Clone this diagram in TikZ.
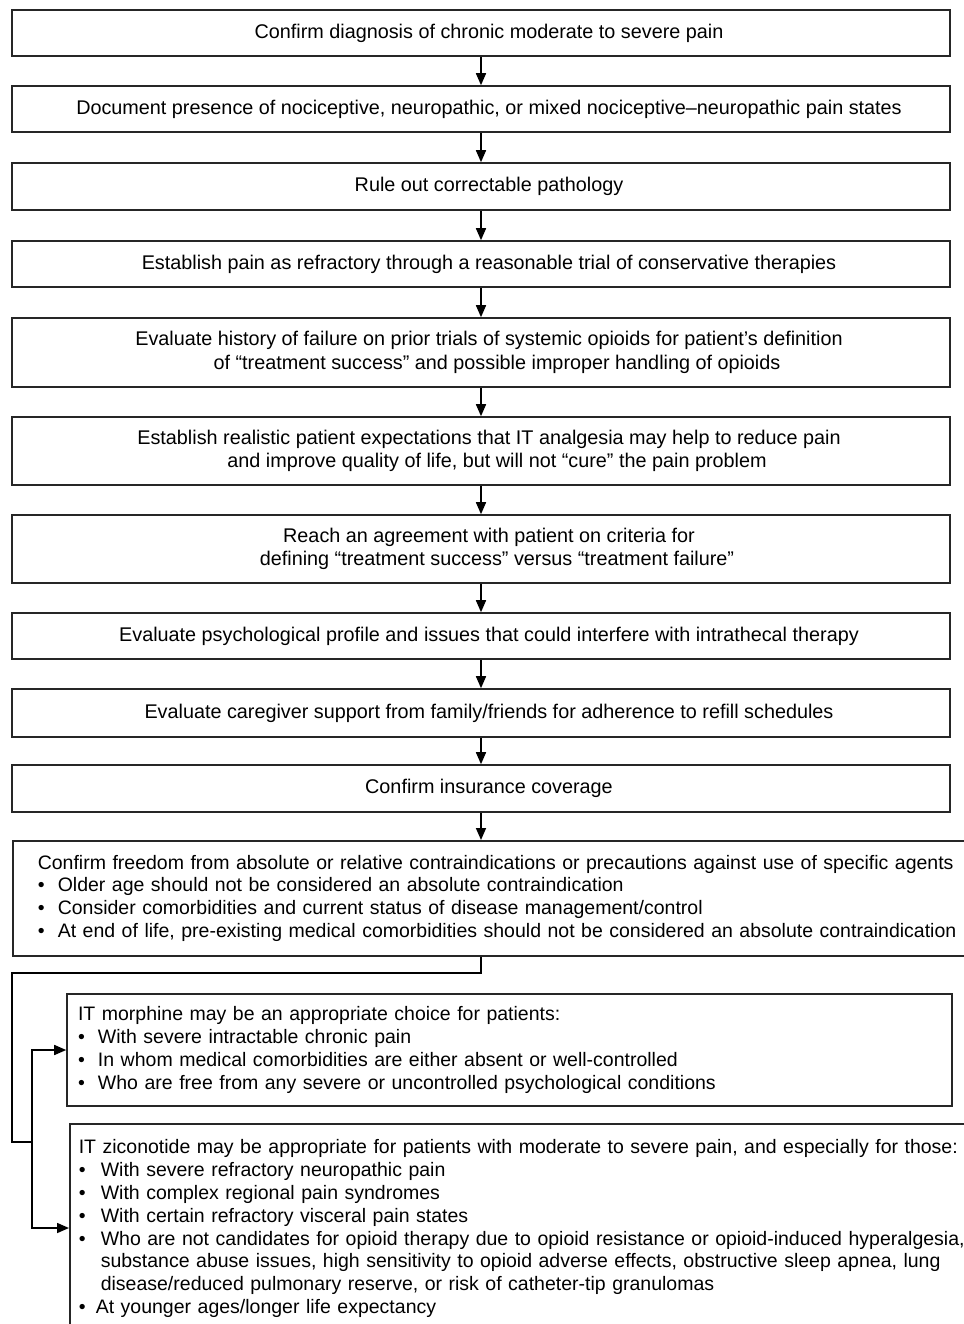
\documentclass[tikz,border=0pt]{standalone}
\usepackage{fontspec}
\setmainfont{Liberation Sans}
\usetikzlibrary{arrows.meta}
\newcommand{\bul}[1][10pt]{\makebox[#1][l]{\textbullet}}
\newcommand{\ind}{\hspace*{8pt}}

\begin{document}
\begin{tikzpicture}[x=0.5pt, y=-0.5pt,
    stage/.style={draw=black!85, line width=0.8pt, minimum width=469pt, align=center, inner sep=0pt,
        font=\fontsize{9.9}{11.8}\selectfont, execute at begin node=\ind},
    listbox/.style={draw=black!85, line width=0.8pt, align=left, inner ysep=0pt,
        font=\fontsize{9.75}{11.4}\selectfont},
    link/.style={line width=0.8pt},
    arr/.style={-{Triangle[width=5pt,length=6pt]}, line width=0.8pt}]
    \useasboundingbox (0,0) rectangle (964,1324);

    % Draw the chain of steps
    \node[stage, minimum height=23pt] (b1) at (481,33) {Confirm diagnosis of chronic moderate to severe pain};
    \node[stage, minimum height=23pt] (b2) at (481,109) {Document presence of nociceptive, neuropathic, or mixed nociceptive--neuropathic pain states};
    \node[stage, minimum height=23.5pt] (b3) at (481,186.5) {Rule out correctable pathology};
    \node[stage, minimum height=23pt] (b4) at (481,264) {Establish pain as refractory through a reasonable trial of conservative therapies};
    \node[stage, minimum height=34.5pt] (b5) at (481,352.5) {Evaluate history of failure on prior trials of systemic opioids for patient’s definition\\\ind of “treatment success” and possible improper handling of opioids};
    \node[stage, minimum height=34pt] (b6) at (481,451) {Establish realistic patient expectations that IT analgesia may help to reduce pain\\\ind and improve quality of life, but will not “cure” the pain problem};
    \node[stage, minimum height=34pt] (b7) at (481,549) {Reach an agreement with patient on criteria for\\\ind defining “treatment success” versus “treatment failure”};
    \node[stage, minimum height=23pt] (b8) at (481,636) {Evaluate psychological profile and issues that could interfere with intrathecal therapy};
    \node[stage, minimum height=24pt] (b9) at (481,713) {Evaluate caregiver support from family/friends for adherence to refill schedules};
    \node[stage, minimum height=23.5pt] (b10) at (481,788.5) {Confirm insurance coverage};

    % Draw contraindication box
    \node[listbox, anchor=north west, text width=470pt, inner xsep=12.5pt, minimum height=57.5pt] (b11) at (12,840) {Confirm freedom from absolute or relative contraindications or precautions against use of specific agents\\
        \bul Older age should not be considered an absolute contraindication\\
        \bul Consider comorbidities and current status of disease management/control\\
        \bul At end of life, pre-existing medical comorbidities should not be considered an absolute contraindication};

    % Draw agent boxes
    \node[listbox, text width=431.5pt, inner xsep=5.5pt, minimum height=56pt] (morph) at (509.5,1050) {IT morphine may be an appropriate choice for patients:\\
        \bul With severe intractable chronic pain\\
        \bul In whom medical comorbidities are either absent or well-controlled\\
        \bul Who are free from any severe or uncontrolled psychological conditions};
    \node[listbox, anchor=north west, text width=460pt, inner xsep=4.5pt, inner ysep=8pt] (zico) at (69,1123) {IT ziconotide may be appropriate for patients with moderate to severe pain, and especially for those:\\
        \bul[11pt]With severe refractory neuropathic pain\\
        \bul[11pt]With complex regional pain syndromes\\
        \bul[11pt]With certain refractory visceral pain states\\
        \bul[11pt]Who are not candidates for opioid therapy due to opioid resistance or opioid-induced hyperalgesia,\\
        \hspace*{11pt}substance abuse issues, high sensitivity to opioid adverse effects, obstructive sleep apnea, lung\\
        \hspace*{11pt}disease/reduced pulmonary reserve, or risk of catheter-tip granulomas\\
        \bul[8.5pt]At younger ages/longer life expectancy};

    % Draw arrows
    \foreach \a/\b in {b1/b2, b2/b3, b3/b4, b4/b5, b5/b6, b6/b7, b7/b8, b8/b9, b9/b10} {
        \draw[arr] (\a) -- (\b);
    }
    \draw[arr] (b10) -- (b1.south |- b11.north);

    % Split to the agents
    \coordinate (elbow) at (12,973);
    \coordinate (fork) at (32,1142);
    \coordinate (zin) at (69,1228);
    \draw[link] (b1.south |- b11.south) |- (elbow) |- (fork);
    \draw[arr] (fork) |- (morph.west);
    \draw[arr] (fork) |- (zin);
\end{tikzpicture}
\end{document}
